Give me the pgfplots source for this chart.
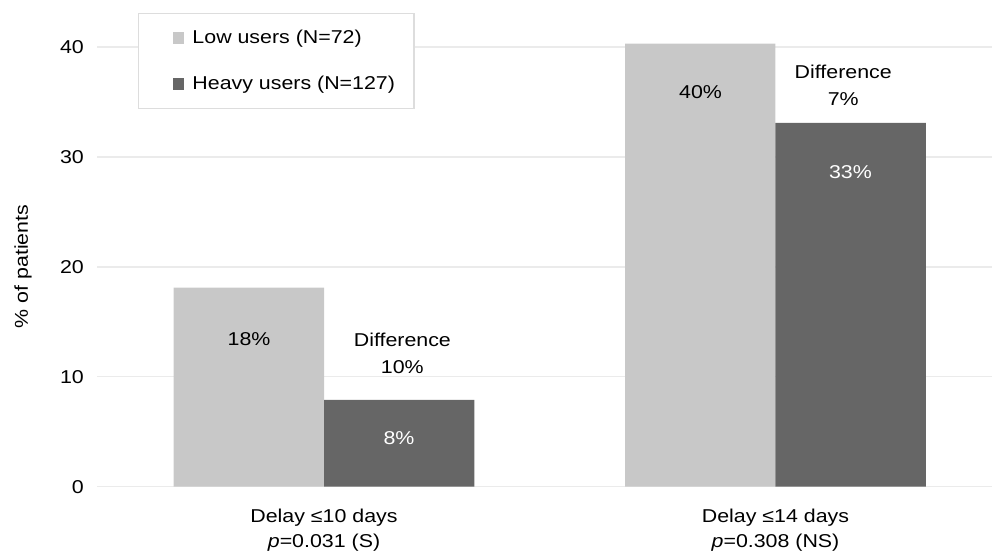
\documentclass[border=0pt]{standalone}
\usepackage{pgfplots}
\pgfplotsset{compat=1.18}
\usepackage{fontspec}
\setmainfont{Liberation Sans}[FakeStretch=1.15]
\definecolor{lightbar}{HTML}{C8C8C8}
\definecolor{darkbar}{HTML}{666666}
\definecolor{gridc}{HTML}{EBEBEB}
\definecolor{legc}{HTML}{DDDDDD}
\begin{document}
\begin{tikzpicture}[font=\fontsize{9.3}{12.5}\selectfont]
\begin{axis}[
  name=ax,
  width=448pt, height=242pt, scale only axis,
  xmin=-0.503, xmax=1.48,
  ymin=0, ymax=44,
  ytick={0,10,20,30,40},
  xtick={0,1},
  xticklabels={{Delay ≤10 days\\\textit{p}=0.031 (S)},{Delay ≤14 days\\\textit{p}=0.308 (NS)}},
  xticklabel style={align=center, yshift=-7.5pt},
  yticklabel style={xshift=-3pt},
  /pgf/number format/assume math mode=true,
  axis line style={draw=none},
  major tick length=0pt,
  ymajorgrids,
  grid style={gridc, line width=0.8pt},
  ylabel={\% of patients},
  ylabel style={at={(axis description cs:-0.0826,0.455)}, anchor=center},
  ybar=0pt, bar width=75.25pt,
  clip=false,
  legend style={at={(axis description cs:0.0458,0.979)}, anchor=north west,
    draw=legc, line width=0.6pt, inner xsep=7.5pt, inner ysep=6pt,
    row sep=11pt, cells={anchor=west}, font=\fontsize{9.3}{11}\selectfont},
  legend image code/.code={\path (0pt,0pt) (17.5pt,0pt); \fill[#1] (9.5pt,-3pt) rectangle (15.5pt,3pt);},
]
\addplot[fill=lightbar, draw=none] coordinates {(0,18.1) (1,40.3)};
\addlegendentry{Low users (N=72)}
\addplot[fill=darkbar, draw=none] coordinates {(0,7.9) (1,33.1)};
\addlegendentry{Heavy users (N=127)}
\node at (axis cs:-0.166,13.4) {18\%};
\node at (axis cs:0.834,35.9) {40\%};
\node[white] at (axis cs:0.166,4.4) {8\%};
\node[white] at (axis cs:1.166,28.6) {33\%};
\node[align=center, font=\fontsize{9.3}{13.5}\selectfont] at (axis cs:0.1735,12.1) {Difference\\10\%};
\node[align=center, font=\fontsize{9.3}{13.5}\selectfont] at (axis cs:1.150,36.5) {Difference\\7\%};
\end{axis}
\path ([xshift=-48.5pt,yshift=-32.5pt]ax.south west) rectangle ([yshift=1.5pt]ax.north east);
\end{tikzpicture}
\end{document}
